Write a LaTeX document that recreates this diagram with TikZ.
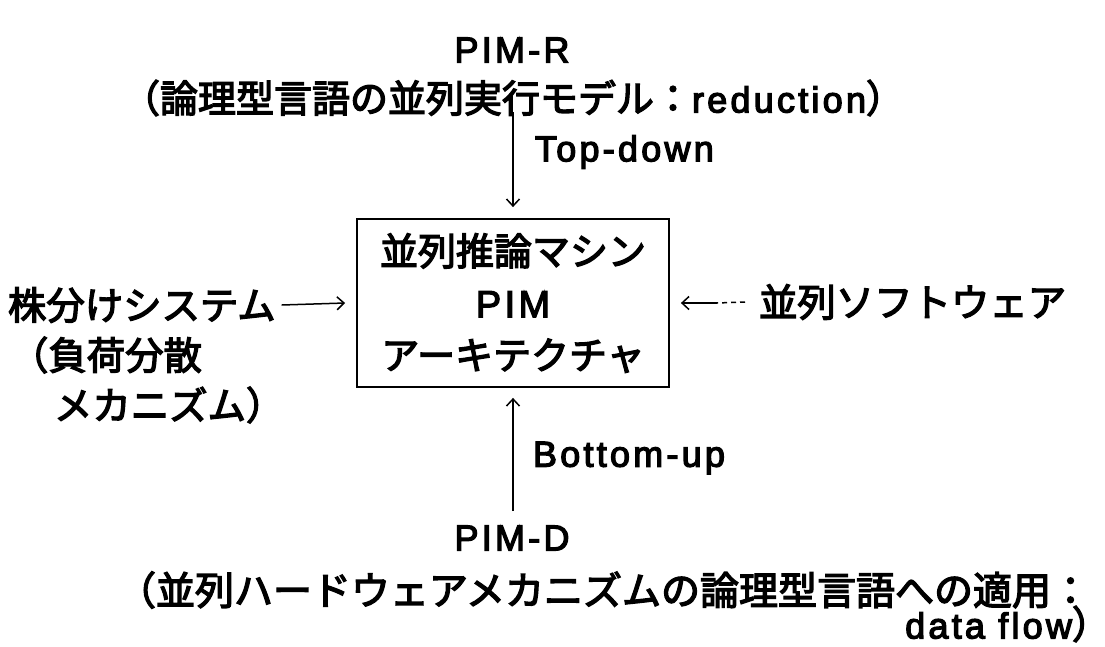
\documentclass[tikz,border=0pt]{standalone}
\usepackage{fontspec}
\setmainfont{Liberation Sans}[LetterSpace=9]
\newfontfamily\jp{Noto Sans CJK JP}
\newcommand{\embon}{\special{pdf:literal 2 Tr 1.3 w}}
\newcommand{\emboff}{\special{pdf:literal 0 Tr}}
\newcommand{\emb}[1]{\embon#1\emboff}
\usetikzlibrary{arrows.meta}
\tikzset{
  lbl/.style={inner sep=0pt, outer sep=0pt, font=\fontsize{36}{40}\selectfont},
  jlbl/.style={inner sep=0pt, outer sep=0pt, font=\fontsize{38.4}{42}\selectfont\jp},
  mainbox/.style={draw, line width=1.8pt, minimum width=312pt, minimum height=168pt, inner sep=0pt, align=center,
     font=\fontsize{38}{52}\selectfont},
  arr/.style={line width=1.5pt, -{Straight Barb[length=7pt,width=13pt,line width=1.5pt]}},
  dsh/.style={line width=1.5pt, dash pattern=on 5pt off 4pt}
}
\begin{document}
\begin{tikzpicture}[x=1pt,y=-1pt]
\useasboundingbox (0,0) rectangle (1105,646);
% top
\node[lbl] (pimr) at (512,50) {\emb{PIM-R}};
\node[lbl] (l2) at (513,98) {\emb{{\jp\fontsize{38}{40}\selectfont （論理型言語の並列実行モデル：}reduction{\jp\fontsize{38}{40}\selectfont ）}}};
\node[lbl, anchor=west] (td) at (535,152) {\emb{Top-down}};
% box
\node[mainbox] (box) at (513,303) {\emb{\jp 並列推論マシン}\\\emb{PIM}\\\emb{\jp アーキテクチャ}};
% left
\node[jlbl, anchor=west] (ls) at (8,305) {\emb{株分けシステム}};
\node[jlbl, anchor=west] (ls2) at (10,355) {\emb{（負荷分散}};
\node[jlbl, anchor=west] (ls3) at (54,405) {\emb{メカニズム）}};
% right
\node[jlbl, anchor=west] (rs) at (759,302) {\emb{並列ソフトウェア}};
% bottom
\node[lbl, anchor=west] (bu) at (533,458) {\emb{Bottom-up}};
\node[lbl] (pimd) at (512,538) {\emb{PIM-D}};
\node[jlbl, anchor=west, font=\fontsize{39}{42}\selectfont\jp] (b2) at (117,590) {\emb{（並列ハードウェアメカニズムの論理型言語への適用：}};
\node[lbl, anchor=east] (b3) at (1090,624) {\emb{data flow\makebox[18pt][l]{\jp\fontsize{38}{40}\selectfont ）}}};
% connectors
\coordinate (ta) at (513,112);
\coordinate (ba) at (513,511);
\coordinate (rm) at (717,303);
\draw[arr] (ta) -- ([yshift=11pt]box.north);
\draw[arr] (ba) -- ([yshift=-10pt]box.south);
\draw[arr] ([xshift=6pt]ls.east) -- ([xshift=-11pt]box.west);
\draw[dsh] ([xshift=-14pt]rs.west) -- (rm);
\draw[arr] (rm) -- ([xshift=11pt]box.east);
\end{tikzpicture}
\end{document}
